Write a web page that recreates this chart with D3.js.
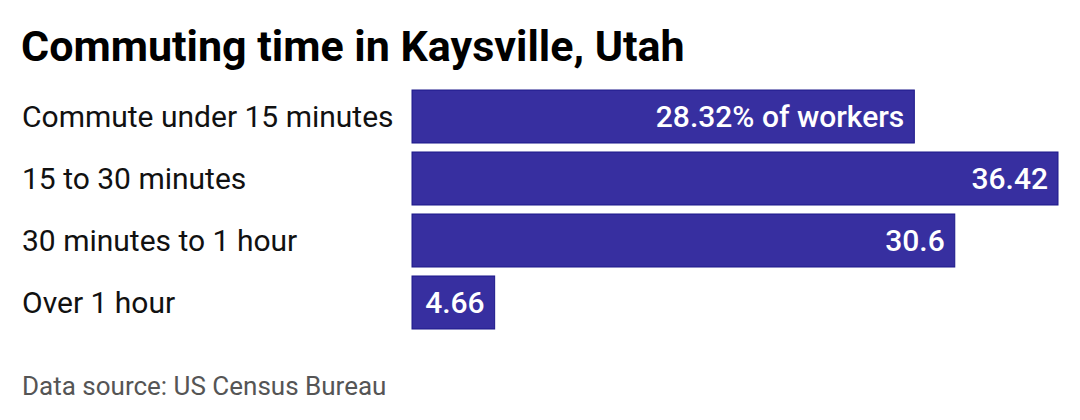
<!DOCTYPE html>
<html><head><meta charset="utf-8">
<script src="https://cdn.jsdelivr.net/npm/d3@7"></script>
<style>
html,body{margin:0;padding:0;background:#fff;}
svg{display:block;font-family:Roboto, "Noto Sans", sans-serif;}
</style></head>
<body>
<svg id="chart" width="1080" height="420"></svg>
<script>
const title = "Commuting time in Kaysville, Utah";
const categories = ["Commute under 15 minutes", "15 to 30 minutes", "30 minutes to 1 hour", "Over 1 hour"];
const values = [28.32, 36.42, 30.6, 4.66];
const valueLabels = ["28.32% of workers", "36.42", "30.6", "4.66"];
const source = "Data source: US Census Bureau";

const svg = d3.select("#chart");
const x = d3.scaleLinear().domain([0, 36.42]).range([412, 1058]);
const y = d3.scaleBand().domain(categories).range([90, 329]).paddingInner(0.145).paddingOuter(0);

svg.append("text").attr("x", 21).attr("y", 61)
  .attr("font-size", 43).attr("font-weight", 700).attr("fill", "#000")
  .text(title);

const g = svg.append("g");
categories.forEach((c, i) => {
  g.append("rect")
    .attr("x", x(0)).attr("y", y(c))
    .attr("width", x(values[i]) - x(0)).attr("height", y.bandwidth())
    .attr("fill", "#372fa0").attr("stroke", "#1c188a").attr("stroke-width", 1);
  g.append("text")
    .attr("x", 22).attr("y", y(c) + y.bandwidth() / 2)
    .attr("dy", "0.36em").attr("font-size", 30).attr("fill", "#111")
    .text(c);
  g.append("text")
    .attr("x", x(values[i]) - 10).attr("y", y(c) + y.bandwidth() / 2)
    .attr("dy", "0.36em").attr("text-anchor", "end")
    .attr("font-size", 30).attr("font-weight", 500).attr("fill", "#fff")
    .text(valueLabels[i]);
});

svg.append("text").attr("x", 22).attr("y", 395)
  .attr("font-size", 26).attr("fill", "#555")
  .text(source);
</script>
</body></html>
